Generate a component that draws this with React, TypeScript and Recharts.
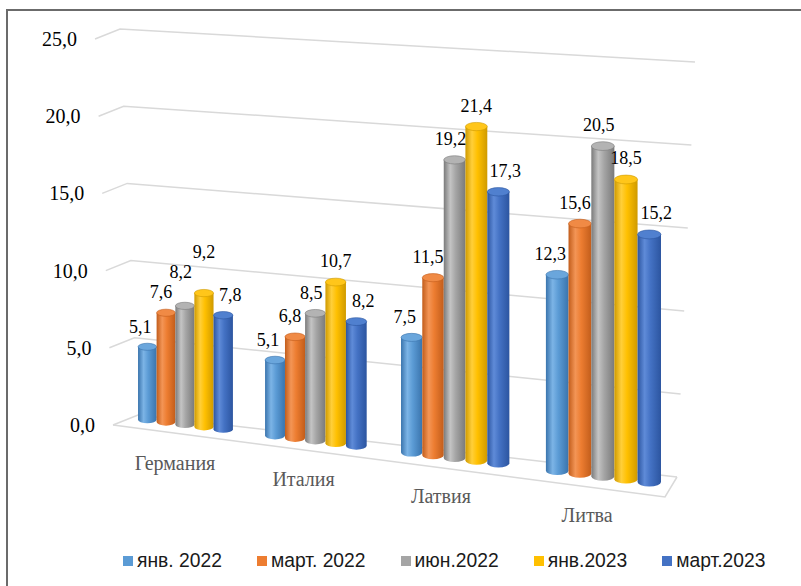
import { BarChart, Bar, XAxis, YAxis, CartesianGrid, LabelList } from "recharts";

// countries on the category axis
const categories = ["Германия", "Италия", "Латвия", "Литва"];

// series values, one array per period
const jan2022 = [5.1, 5.1, 7.5, 12.3];
const mar2022 = [7.6, 6.8, 11.5, 15.6];
const jun2022 = [8.2, 8.5, 19.2, 20.5];
const jan2023 = [9.2, 10.7, 21.4, 18.5];
const mar2023 = [7.8, 8.2, 17.3, 15.2];

const seriesNames = ["янв. 2022", "март. 2022", "июн.2022", "янв.2023", "март.2023"];
const yTicks = [0, 5, 10, 15, 20, 25];

const seriesValues = [jan2022, mar2022, jun2022, jan2023, mar2023];
const data = categories.map((country, i) => {
  const row: Record<string, any> = { country };
  seriesValues.forEach((vals, s) => (row[`s${s}`] = vals[i]));
  return row;
});

// colours: legend / body gradient (edge, light) / top ellipse
const colors = ["#5B9BD5", "#ED7D31", "#A5A5A5", "#FFC000", "#4472C4"];
const edgeColors = ["#3a74ad", "#c25d1b", "#7a7a7a", "#cf9a00", "#2c55a0"];
const lightColors = ["#7cb4e6", "#f39556", "#c4c4c4", "#ffcf3a", "#5f8bd8"];
const topColors = ["#6aa6dc", "#f08a45", "#b3b3b3", "#ffc61a", "#5080cf"];
const labelDx = [-7, -5, -4, 0, 7];

const SERIF = '"Liberation Serif", "Times New Roman", serif';
const PLOT_TOP = 39;
const PLOT_BOTTOM = 425;
const PX_PER_UNIT = (PLOT_BOTTOM - PLOT_TOP) / 25;

// fake perspective: groups spread a bit to the right, floor sinks to the right
const warpX = (x: number) => x + 0.00023 * (x - 185) * (x - 603);
const floorY = (cx: number) => PLOT_BOTTOM - 2 + 0.126 * (cx - 145);
const depthScale = (cx: number) => (14.3 + 0.00395 * (cx - 145)) / PX_PER_UNIT;
const fmt = (v: number) => v.toFixed(1).replace(".", ",");

function cylinderGeom(x: number, width: number, height: number) {
  const xl = warpX(x);
  const xr = warpX(x + width);
  const cx = (xl + xr) / 2;
  const rx = (xr - xl) / 2;
  const ry = (xr - xl) * 0.19;
  const yb = floorY(cx) - ry;
  const yt = yb - height * depthScale(cx);
  return { xl, xr, cx, rx, ry, yb, yt };
}

// label spot above a bar; lifted when it would collide with the neighbour's label
function labelPos(si: number, ci: number, x: number, width: number): { lx: number; ly: number } {
  const g = cylinderGeom(x, width, seriesValues[si][ci] * PX_PER_UNIT);
  const lx = g.cx + labelDx[si];
  let ly = g.yt - g.ry - 17;
  if (si > 0) {
    const prev = labelPos(si - 1, ci, x - width, width);
    if (Math.abs(ly - prev.ly) < 20 && Math.abs(lx - prev.lx) < 28) ly = Math.min(ly, prev.ly - 20);
  }
  return { lx, ly };
}

const makeCylinder = (si: number) => (props: any) => {
  const { x, width, height } = props;
  if (height == null || isNaN(height)) return <g />;
  const g = cylinderGeom(x, width, height);
  return (
    <g>
      <path
        d={`M${g.xl},${g.yt} L${g.xl},${g.yb} A${g.rx},${g.ry} 0 0 0 ${g.xr},${g.yb} L${g.xr},${g.yt} Z`}
        fill={`url(#cyl-${si})`}
      />
      <ellipse cx={g.cx} cy={g.yt} rx={g.rx} ry={g.ry} fill={topColors[si]} stroke={edgeColors[si]} strokeWidth={0.6} />
    </g>
  );
};

const makeLabel = (si: number) => (props: any) => {
  const vb = props.viewBox && props.viewBox.width != null ? props.viewBox : props;
  const { x, width } = vb;
  if (x == null || props.index == null) return null;
  const p = labelPos(si, props.index, x, width);
  return (
    <text x={p.lx} y={p.ly} dy="0.35em" textAnchor="middle" style={{ fontFamily: SERIF, fontSize: 18 }} fill="#000">
      {fmt(Number(props.value))}
    </text>
  );
};

// left wall + back wall segment for each value line
const gridLine = (props: any) => {
  const y = props.y1;
  const d = PLOT_BOTTOM - y;
  const lx = 113 - d * 0.0466;
  const bx = lx + 25;
  const by = y - 10;
  const rx = 677 + d * 0.0466;
  const ry = y + 52 - d * 0.075;
  return (
    <g key={`grid-${y}`}>
      <polyline points={`${lx},${y} ${bx},${by} ${rx},${ry}`} fill="none" stroke="#d9d9d9" strokeWidth={1.5} />
      {d < 1 && (
        <polyline points={`${lx},${y} ${rx - 12},${y + 72} ${rx},${ry}`} fill="none" stroke="#d9d9d9" strokeWidth={1.5} />
      )}
    </g>
  );
};

const YTick = (props: any) => {
  const { y, payload } = props;
  const lx = 113 - (PLOT_BOTTOM - y) * 0.0466;
  return (
    <text x={lx - 18} y={y} dy="0.35em" textAnchor="end" style={{ fontFamily: SERIF, fontSize: 20 }} fill="#000">
      {fmt(payload.value)}
    </text>
  );
};

const XTick = (props: any) => {
  const { x, payload } = props;
  const wx = warpX(x);
  const tx = wx - 10 - (wx - 185) * 0.014;
  const ty = 463 + 0.125 * (tx - 175);
  return (
    <text x={tx} y={ty} dy="0.35em" textAnchor="middle" style={{ fontFamily: SERIF, fontSize: 20 }} fill="#595959">
      {payload.value}
    </text>
  );
};

export default function App() {
  return (
    <div style={{ position: "relative", width: 801, height: 586, background: "#fff", overflow: "hidden" }}>
      <style>{"body{margin:0}"}</style>
      <svg width={0} height={0} style={{ position: "absolute" }}>
        <defs>
          {colors.map((c, i) => (
            <linearGradient key={i} id={`cyl-${i}`} x1="0" y1="0" x2="1" y2="0">
              <stop offset="0%" stopColor={edgeColors[i]} />
              <stop offset="30%" stopColor={lightColors[i]} />
              <stop offset="55%" stopColor={c} />
              <stop offset="100%" stopColor={edgeColors[i]} />
            </linearGradient>
          ))}
        </defs>
      </svg>

      {/* frame, only top and left edges are visible */}
      <div
        style={{
          position: "absolute",
          left: 6,
          top: 9,
          width: 801,
          height: 586,
          borderTop: "2px solid #6b6b6b",
          borderLeft: "2px solid #6b6b6b",
        }}
      />

      <div style={{ position: "absolute", left: 0, top: 0 }}>
        <BarChart
          width={801}
          height={586}
          data={data}
          margin={{ top: PLOT_TOP, right: 128.33, bottom: 586 - PLOT_BOTTOM - 30, left: 55.33 }}
          barGap={0}
          barCategoryGap={17}
        >
          <CartesianGrid horizontal={gridLine} vertical={false} />
          <XAxis dataKey="country" axisLine={false} tickLine={false} tick={<XTick />} height={30} interval={0} />
          <YAxis
            domain={[0, 25]}
            ticks={yTicks}
            axisLine={false}
            tickLine={false}
            tick={<YTick />}
            width={60}
          />
          {seriesNames.map((name, si) => (
            <Bar key={name} dataKey={`s${si}`} name={name} fill={colors[si]} shape={makeCylinder(si)} isAnimationActive={false}>
              <LabelList dataKey={`s${si}`} content={makeLabel(si)} />
            </Bar>
          ))}
        </BarChart>
      </div>

      {/* legend */}
      <div
        style={{
          position: "absolute",
          left: 123,
          top: 549,
          display: "flex",
          gap: 35,
          fontFamily: '"Liberation Sans", Arial, sans-serif',
          fontSize: 19.3,
          lineHeight: "24px",
          color: "#1a1a1a",
          whiteSpace: "nowrap",
        }}
      >
        {seriesNames.map((name, i) => (
          <div key={name} style={{ display: "flex", alignItems: "center" }}>
            <span style={{ width: 10, height: 10, background: colors[i], marginRight: 4, display: "inline-block" }} />
            <span>{name}</span>
          </div>
        ))}
      </div>
    </div>
  );
}
